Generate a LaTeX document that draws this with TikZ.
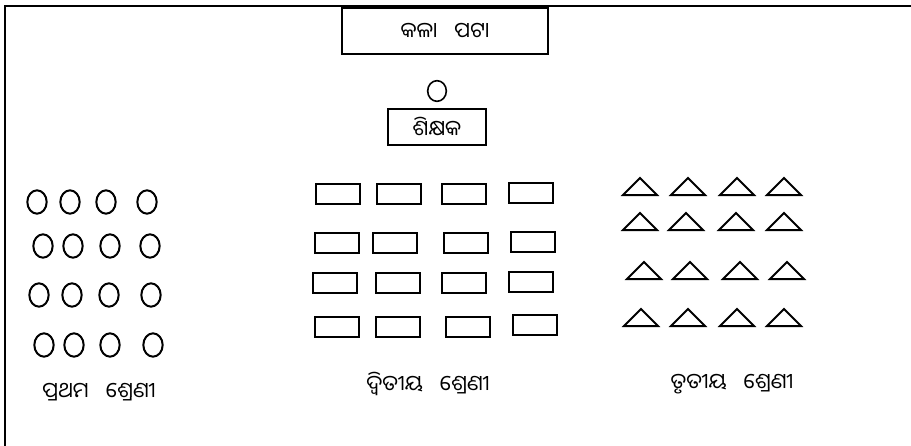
\documentclass[tikz,border=0pt]{standalone}
\usepackage{fontspec}
\newfontfamily\oriya[Script=Oriya]{Noto Sans Oriya UI}
\usetikzlibrary{shapes.geometric}

\begin{document}
\begin{tikzpicture}[x=0.75pt,y=-0.75pt,
		main/.style={
			line width=1.5pt,
			color=black
			},
		txt/.style={font=\oriya\fontsize{16}{18}\selectfont, inner sep=0pt},
		seat/.style={main, draw, ellipse, inner sep=0pt,
			minimum width=14.5pt, minimum height=17.5pt},
		desk/.style={main, draw, rectangle, inner sep=0pt,
			minimum width=33pt, minimum height=15.5pt}
		]
	\useasboundingbox (0,0) rectangle (911,446);

	% room
	\draw[main, line width=2pt] (5,446) -- (5,6) -- (911,6);

	% board and teacher
	\node[main, draw, rectangle, minimum width=155pt, minimum height=35pt] (board) at (445,31) {};
	\node[txt] (boardtxt) at (445,31) {କଳା\hspace{0.8em}ପଟା};
	\node[main, draw, ellipse, inner sep=0pt, minimum width=14pt, minimum height=15.5pt, line width=1.2pt] (head) at (437,91) {};
	\node[main, draw, rectangle, minimum width=74pt, minimum height=27pt] (teacher) at (437,127) {};
	\node[txt] (teachertxt) at (437,127) {ଶିକ୍ଷକ};

	% first class
	\foreach \x/\y [count=\i] in {37/202,70/202,106/202,147/202,
		43/246,73/246,110/246,150/246,
		39/295,72/295,109/295,151/295,
		44/345,74/345,110/345,153/345}
		\node[seat] (s\i) at (\x,\y) {};
	\node[txt] (first) at (99,392) {ପ୍ରଥମ\hspace{0.8em}ଶ୍ରେଣୀ};

	% second class
	\foreach \x/\y [count=\i] in {338/194,399/194,464/194,531/193,
		337/243,395/243,466/243,533/242,
		335/283,398/283,464/283,531/282,
		337/327,398/327,468/327,535/325}
		\node[desk] (d\i) at (\x,\y) {};
	\node[txt] (second) at (428,384) {ଦ୍ୱିତୀୟ\hspace{0.8em}ଶ୍ରେଣୀ};

	% third class
	\foreach \x/\y [count=\i] in {640/195,688/195,737/195,784/195,
		640/230,686/230,736/230,784/230,
		644/279,690/279,740/279,787/279,
		641/326,688/326,737/326,784/326}
		\draw[main, line join=miter] (\x-17,\y) coordinate (t\i) -- ++(17,-17) -- ++(17,17) -- cycle;
	\node[txt] (third) at (732,384) {ତୃତୀୟ\hspace{0.8em}ଶ୍ରେଣୀ};

\end{tikzpicture}
\end{document}
